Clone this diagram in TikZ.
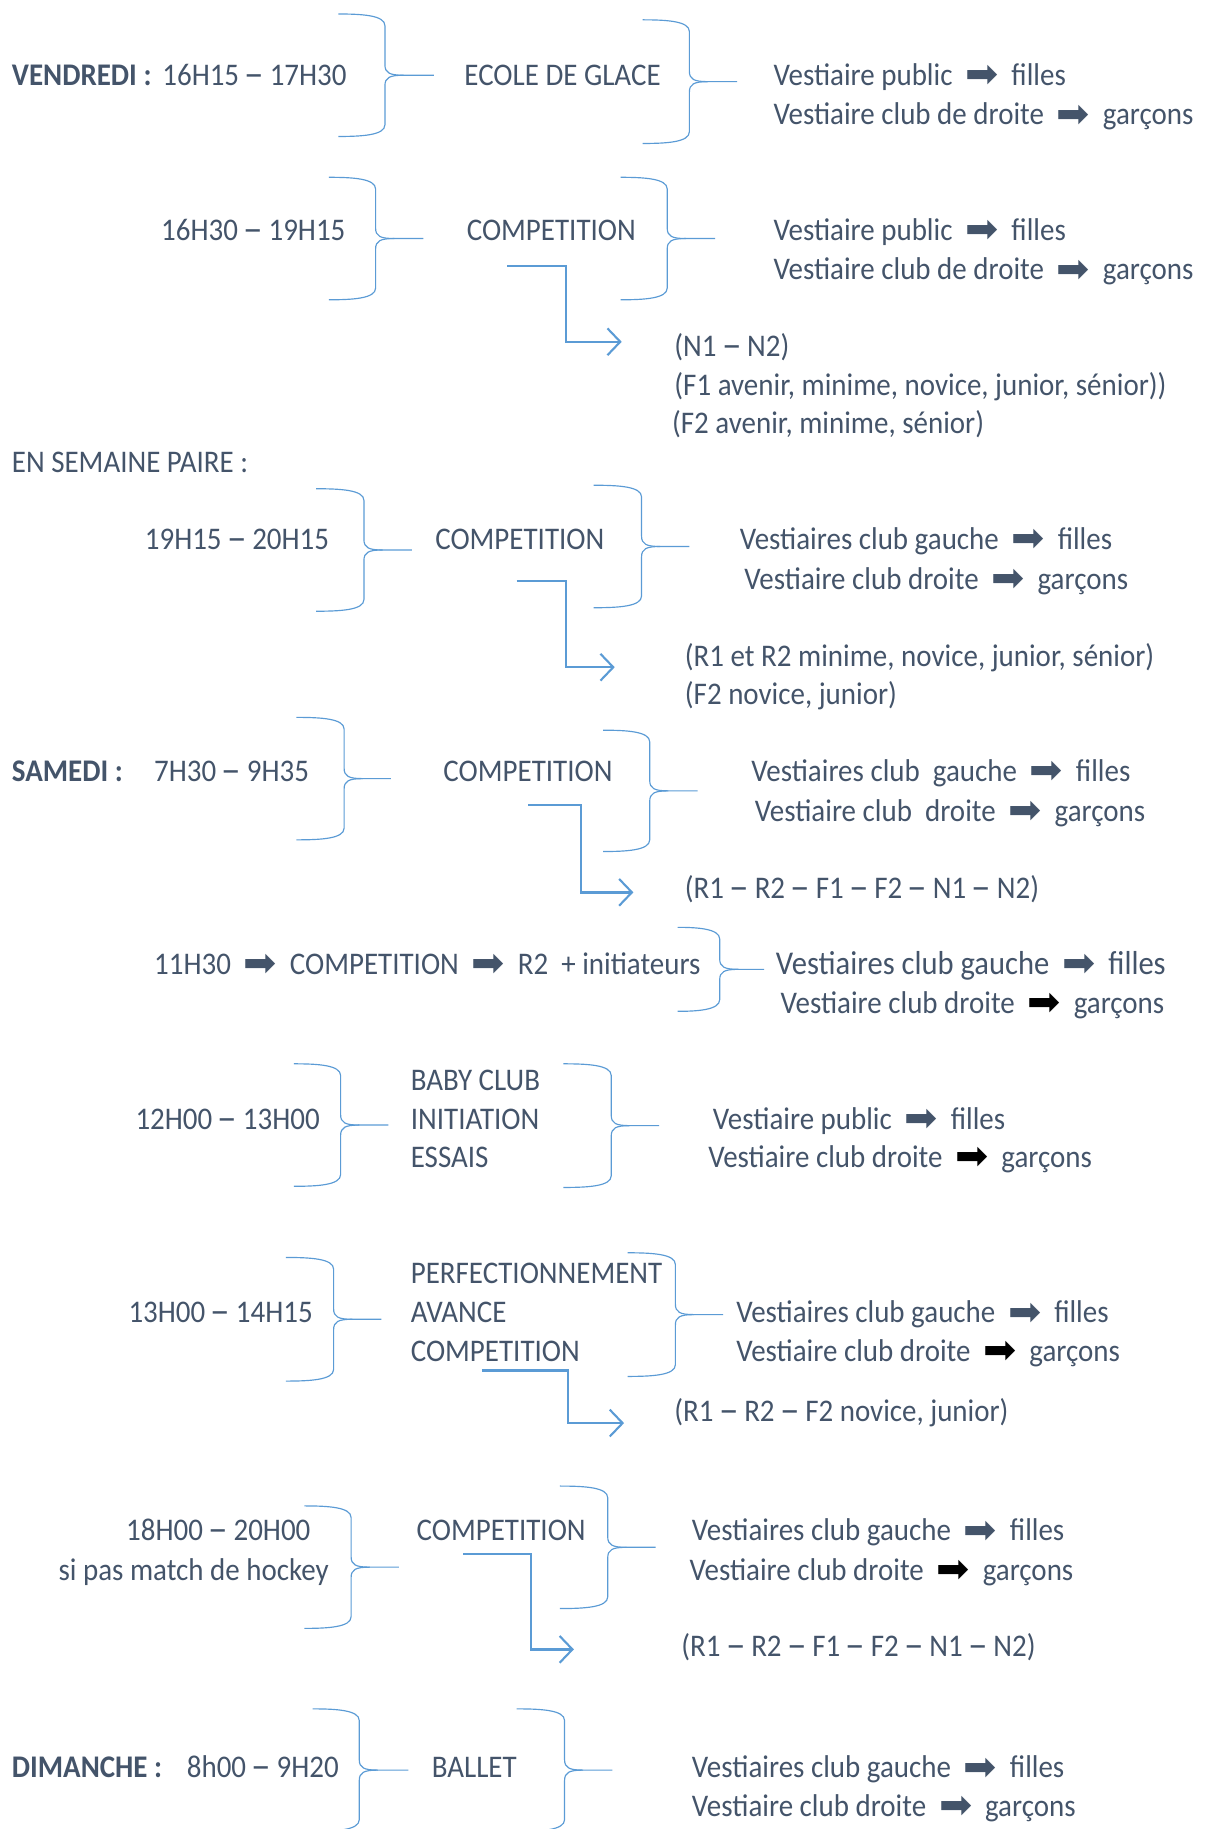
\documentclass[tikz,border=0pt]{standalone}
\usepackage{fontspec}
\setmainfont{Carlito}[FakeStretch=0.92]
\newfontfamily\fl{DejaVu Sans}
\usepackage{tikz}
\usetikzlibrary{positioning,arrows.meta}
\definecolor{ardoise}{HTML}{44546A}
\definecolor{bleu}{HTML}{5B9BD5}
\tikzset{txt/.style={anchor=base west,inner sep=0pt,text=ardoise}}
\tikzset{jour/.style={txt,font=\fontsize{27}{33}\selectfont\bfseries}}
\tikzset{accol/.style={draw=bleu,line width=1pt}}
\tikzset{fleche/.style={draw=bleu,line width=2pt,-{Straight Barb[length=11pt,width=23pt,line width=1.8pt]}}}
\newcommand{\fd}{\hspace{11pt}\raisebox{-2pt}{\fl\fontsize{34}{33}\selectfont ➡}\hspace{11pt}}
\newcommand{\fn}{\hspace{11pt}\raisebox{-2pt}{\color{black}\fl\fontsize{34}{33}\selectfont ➡}\hspace{11pt}}
\newcommand{\td}{{\fl\fontsize{30}{33}\selectfont –}}
% #1 bouts, #2 dos, #3 haut, #4 bas, #5 pointe
\newcommand{\accolade}[5]{%
  \pgfmathsetmacro\accm{(#3+#4)/2}
  \draw[accol] (#1,#3) .. controls (#2-20,#3) and (#2,#3+1) .. (#2,#3+10) -- (#2,\accm-9)
    .. controls (#2,\accm-2) and (#2+4,\accm) .. (#2+16,\accm) -- (#5,\accm);
  \draw[accol] (#1,#4) .. controls (#2-20,#4) and (#2,#4-1) .. (#2,#4-10) -- (#2,\accm+9)
    .. controls (#2,\accm+2) and (#2+4,\accm) .. (#2+16,\accm);
}

\begin{document}
\begin{tikzpicture}[x=1pt,y=-1pt,font=\fontsize{27}{33}\selectfont]
    \useasboundingbox (0,0) rectangle (1035,1568);

    % vendredi
    \node (ven) [jour] at (10,73) {VENDREDI :};
    \node (h1) [txt] at (139,73) {16H15 \td{} 17H30};
    \accolade{290}{330}{12}{117}{372}
    \node (e1) [txt] at (398,73) {ECOLE DE GLACE};
    \accolade{551}{591}{17}{123}{632}
    \node (v1a) [txt] at (663,73) {Vestiaire public\fd filles};
    \node (v1b) [txt] at (663,107) {Vestiaire club de droite\fd garçons};

    \node (h2) [txt] at (138,206) {16H30 \td{} 19H15};
    \accolade{282}{322}{152}{257}{363}
    \node (c2) [txt] at (400,206) {COMPETITION};
    \accolade{532}{572}{152}{257}{613}
    \node (v2a) [txt] at (663,206) {Vestiaire public\fd filles};
    \node (v2b) [txt] at (663,240) {Vestiaire club de droite\fd garçons};
    \node (l2a) [txt] at (578,306) {(N1 \td{} N2)};
    \node (l2b) [txt] at (578,339) {(F1 avenir, minime, novice, junior, sénior))};
    \node (l2c) [txt] at (576,372) {(F2 avenir, minime, sénior)};
    \coordinate (d2) at (435,228);
    \coordinate (a2) at (533,293);
    \draw [fleche] (d2) -- ++(50,0) |- (a2);

    % semaine paire
    \node (sem) [txt] at (10,405) {EN SEMAINE PAIRE :};
    \node (h3) [txt] at (124,471) {19H15 \td{} 20H15};
    \accolade{271}{312}{419}{524}{353}
    \node (c3) [txt] at (373,471) {COMPETITION};
    \accolade{509}{550}{416}{521}{591}
    \node (v3a) [txt] at (634,471) {Vestiaires club gauche\fd filles};
    \node (v3b) [txt] at (638,505) {Vestiaire club droite\fd garçons};
    \node (l3a) [txt] at (587,571) {(R1 et R2 minime, novice, junior, sénior)};
    \node (l3b) [txt] at (587,604) {(F2 novice, junior)};
    \coordinate (d3) at (443,498);
    \coordinate (a3) at (527,572);
    \draw [fleche] (d3) -- ++(42,0) |- (a3);

    % samedi
    \node (sam) [jour] at (10,670) {SAMEDI :};
    \node (h4) [txt] at (132,670) {7H30 \td{} 9H35};
    \accolade{254}{295}{615}{720}{335}
    \node (c4) [txt] at (380,670) {COMPETITION};
    \accolade{517}{557}{626}{730}{598}
    \node (v4a) [txt] at (644,670) {Vestiaires club\ \ gauche\fd filles};
    \node (v4b) [txt] at (647,704) {Vestiaire club\ \ droite\fd garçons};
    \node (l4) [txt] at (587,770) {(R1 \td{} R2 \td{} F1 \td{} F2 \td{} N1 \td{} N2)};
    \coordinate (d4) at (453,690);
    \coordinate (a4) at (543,765);
    \draw [fleche] (d4) -- ++(45,0) |- (a4);

    \node (h5) [txt] at (132,835) {11H30\fd COMPETITION\fd R2\ \ + initiateurs};
    \accolade{581}{617}{795}{867}{655}
    \node (v5a) [txt,font=\fontsize{28.5}{33}\selectfont] at (665,835) {Vestiaires club gauche\fd filles};
    \node (v5b) [txt] at (669,869) {Vestiaire club droite\fn garçons};

    \node (h6) [txt] at (116,968) {12H00 \td{} 13H00};
    \accolade{252}{292}{912}{1017}{333}
    \node (b6a) [txt] at (352,935) {BABY CLUB};
    \node (b6b) [txt] at (352,968) {INITIATION};
    \node (b6c) [txt] at (352,1001) {ESSAIS};
    \accolade{483}{524}{912}{1018}{565}
    \node (v6a) [txt] at (611,968) {Vestiaire public\fd filles};
    \node (v6b) [txt] at (607,1001) {Vestiaire club droite\fn garçons};

    \node (h7) [txt] at (110,1134) {13H00 \td{} 14H15};
    \accolade{245}{286}{1078}{1184}{327}
    \node (p7a) [txt] at (352,1100) {PERFECTIONNEMENT};
    \node (p7b) [txt] at (352,1134) {AVANCE};
    \node (p7c) [txt] at (352,1167) {COMPETITION};
    \accolade{538}{579}{1074}{1180}{620}
    \node (v7a) [txt] at (631,1134) {Vestiaires club gauche\fd filles};
    \node (v7b) [txt] at (631,1167) {Vestiaire club droite\fn garçons};
    \node (l7) [txt] at (578,1219) {(R1 \td{} R2 \td{} F2 novice, junior)};
    \coordinate (d7) at (413,1175);
    \coordinate (a7) at (535,1220);
    \draw [fleche] (d7) -- ++(74,0) |- (a7);

    \node (h8a) [txt] at (108,1321) {18H00 \td{} 20H00};
    \node (h8b) [txt] at (50,1355) {si pas match de hockey};
    \accolade{261}{301}{1291}{1396}{342}
    \node (c8) [txt] at (357,1321) {COMPETITION};
    \accolade{480}{521}{1274}{1379}{562}
    \node (v8a) [txt] at (593,1321) {Vestiaires club gauche\fd filles};
    \node (v8b) [txt] at (591,1355) {Vestiaire club droite\fn garçons};
    \node (l8) [txt] at (584,1420) {(R1 \td{} R2 \td{} F1 \td{} F2 \td{} N1 \td{} N2)};
    \coordinate (d8) at (397,1332);
    \coordinate (a8) at (492,1414);
    \draw [fleche] (d8) -- ++(58,0) |- (a8);

    % dimanche
    \node (dim) [jour] at (10,1524) {DIMANCHE :};
    \node (h9) [txt] at (160,1524) {8h00 \td{} 9H20};
    \accolade{268}{308}{1465}{1570}{350}
    \node (c9) [txt] at (370,1524) {BALLET};
    \accolade{443}{484}{1465}{1570}{525}
    \node (v9a) [txt] at (593,1524) {Vestiaires club gauche\fd filles};
    \node (v9b) [txt] at (593,1557) {Vestiaire club droite\fd garçons};
\end{tikzpicture}
\end{document}
